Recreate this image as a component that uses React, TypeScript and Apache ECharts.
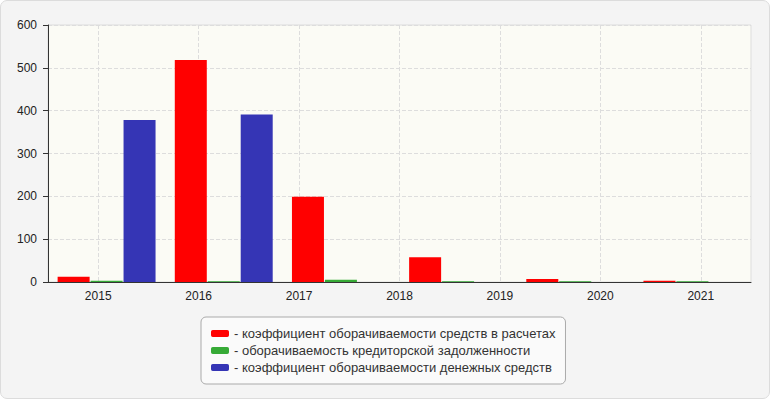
import React, { useEffect, useRef } from "react";
import * as echarts from "echarts";

const years = ["2015", "2016", "2017", "2018", "2019", "2020", "2021"];
const groups = ["1", "2", "3", "4", "5", "6"];
const seriesNames = [
  "коэффициент оборачиваемости средств в расчетах",
  "оборачиваемость кредиторской задолженности",
  "коэффициент оборачиваемости денежных средств",
];
const redValues = [12, 518, 199, 58, 7, 3];
const greenValues = [3, 2, 5, 2, 2, 2];
const blueValues = [378, 391, 0, 0, 0, 0];
const yTicks = [0, 100, 200, 300, 400, 500, 600];
const colors = ["#ff0000", "#36aa36", "#3535b5"];

const FONT = "Arial, 'Liberation Sans', sans-serif";

export default function App() {
  const ref = useRef<HTMLDivElement>(null);
  useEffect(() => {
    if (!ref.current) return;
    const chart = echarts.init(ref.current, undefined, { renderer: "svg" });
    const values = [redValues, greenValues, blueValues];
    chart.setOption({
      animation: false,
      textStyle: { fontFamily: FONT },
      grid: {
        left: 48,
        right: 19,
        top: 25,
        bottom: 118,
        show: true,
        backgroundColor: "#fbfbf5",
        borderColor: "#dddddd",
        borderWidth: 1,
      },
      legend: {
        orient: "vertical",
        left: 201,
        top: 317,
        padding: [9, 10, 9, 10],
        backgroundColor: "#fafafa",
        borderColor: "#aaaaaa",
        borderWidth: 1,
        borderRadius: 5,
        itemWidth: 18,
        itemHeight: 7,
        itemGap: 2,
        icon: "roundRect",
        selectedMode: false,
        formatter: (name: string) => "- " + name,
        textStyle: { fontSize: 13, color: "#333333", fontFamily: FONT, lineHeight: 15 },
        data: seriesNames,
      },
      xAxis: [
        {
          type: "category",
          data: years,
          boundaryGap: true,
          axisLine: { lineStyle: { color: "#333333", width: 1 } },
          axisTick: { alignWithLabel: true, length: 5, lineStyle: { color: "#333333" } },
          axisLabel: { color: "#222222", fontSize: 12, margin: 8, fontFamily: FONT },
          splitLine: {
            show: true,
            alignWithLabel: true,
            lineStyle: { color: "#dddddd", type: "dashed", width: 1 },
          },
          z: 0,
        },
        {
          type: "category",
          data: groups,
          show: false,
          boundaryGap: true,
          splitLine: { show: false },
        },
      ],
      yAxis: {
        type: "value",
        min: 0,
        max: 600,
        interval: 100,
        z: 0,
        axisLine: { show: true, lineStyle: { color: "#333333", width: 1 } },
        axisTick: { show: true, length: 5, lineStyle: { color: "#333333" } },
        axisLabel: {
          color: "#222222",
          fontSize: 12,
          margin: 11,
          fontFamily: FONT,
          formatter: (v: number) => (yTicks.includes(v) ? String(v) : ""),
        },
        splitLine: { show: true, lineStyle: { color: "#dddddd", type: "dashed", width: 1 } },
      },
      series: seriesNames.map((name, i) => ({
        name,
        type: "bar",
        xAxisIndex: 1,
        data: values[i],
        barWidth: 32,
        barGap: "3%",
        itemStyle: { color: colors[i] },
        z: 2,
      })),
    });
    return () => chart.dispose();
  }, []);
  return (
    <div
      style={{
        position: "fixed",
        left: 0,
        top: 0,
        width: 770,
        height: 399,
        boxSizing: "border-box",
        border: "1px solid #dcdcdc",
        borderRadius: 7,
        background: "#f4f4f4",
        overflow: "hidden",
      }}
    >
      <div ref={ref} style={{ position: "absolute", left: -1, top: -1, width: 770, height: 400 }} />
    </div>
  );
}
